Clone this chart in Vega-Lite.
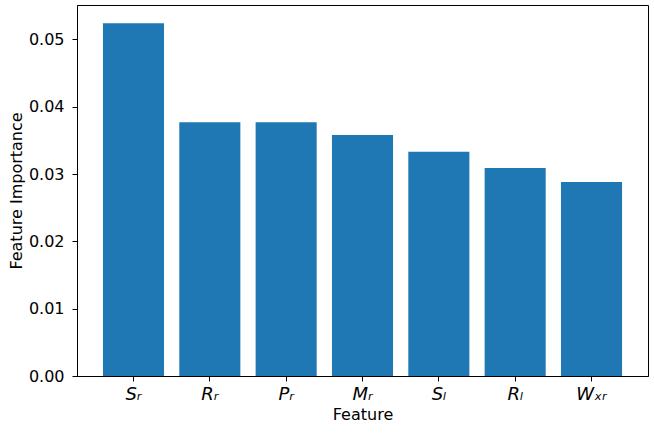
{
  "$schema": "https://vega.github.io/schema/vega-lite/v6.json",
  "autosize": "none",
  "width": 571,
  "height": 371,
  "padding": {"left": 77, "top": 5, "right": 6, "bottom": 57},
  "background": "white",
  "config": {
    "font": "DejaVu Sans",
    "view": {"stroke": "black", "strokeWidth": 1},
    "axis": {
      "domainColor": "black",
      "tickColor": "black",
      "labelColor": "black",
      "titleColor": "black",
      "grid": false,
      "tickSize": 5,
      "labelFontSize": 16,
      "titleFontSize": 16,
      "titleFontWeight": "normal",
      "labelFont": "DejaVu Sans",
      "titleFont": "DejaVu Sans",
      "labelPadding": 3
    }
  },
  "data": {
    "values": [
      {"feature": "Sᵣ", "importance": 0.0524},
      {"feature": "Rᵣ", "importance": 0.0377},
      {"feature": "Pᵣ", "importance": 0.0377},
      {"feature": "Mᵣ", "importance": 0.0358},
      {"feature": "Sₗ", "importance": 0.0333},
      {"feature": "Rₗ", "importance": 0.0309},
      {"feature": "Wₓᵣ", "importance": 0.0288}
    ]
  },
  "mark": {"type": "bar", "color": "#1f77b4"},
  "encoding": {
    "x": {
      "field": "feature",
      "type": "nominal",
      "sort": null,
      "scale": {"paddingInner": 0.2, "paddingOuter": 0.34},
      "axis": {"title": "Feature", "labelAngle": 0, "labelFontStyle": "italic", "labelFontSize": 18, "labelPadding": 4, "titlePadding": 3}
    },
    "y": {
      "field": "importance",
      "type": "quantitative",
      "scale": {"domain": [0, 0.0551], "nice": false},
      "axis": {"title": "Feature Importance", "values": [0, 0.01, 0.02, 0.03, 0.04, 0.05], "format": ".2f", "labelPadding": 8, "titlePadding": 4}
    }
  }
}
